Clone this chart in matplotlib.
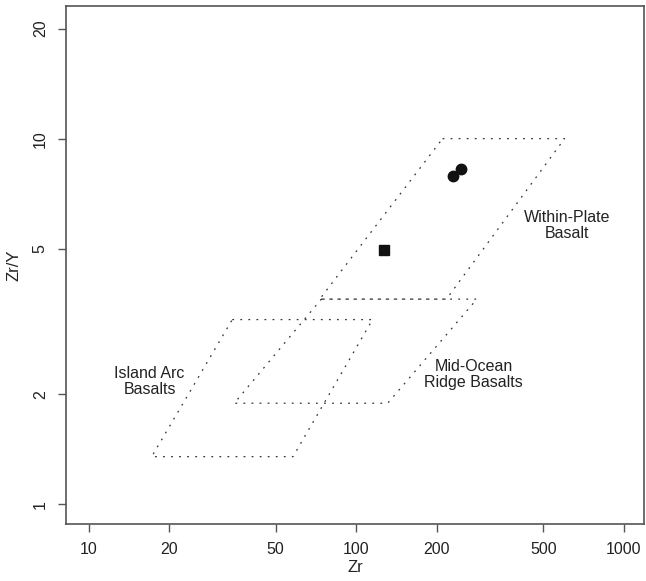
import matplotlib
matplotlib.use("Agg")
import matplotlib.pyplot as plt
from matplotlib.ticker import NullLocator, FixedLocator, FixedFormatter

plt.rcParams['font.family'] = ['Liberation Sans', 'DejaVu Sans']
plt.rcParams['lines.scale_dashes'] = False

# field outlines (Zr, Zr/Y)
wpb_zr = [210, 600, 217, 73, 210]
wpb_ratio = [10, 10, 3.64, 3.64, 10]
morb_zr = [74, 282, 131, 35, 74]
morb_ratio = [3.64, 3.64, 1.89, 1.89, 3.64]
iab_zr = [34.4, 115, 58, 17.2, 34.4]
iab_ratio = [3.2, 3.2, 1.35, 1.35, 3.2]

# samples
circle_zr = [230, 247]
circle_ratio = [7.88, 8.24]
square_zr = [127]
square_ratio = [4.96]

x_ticks = [10, 20, 50, 100, 200, 500, 1000]
y_ticks = [1, 2, 5, 10, 20]

fig = plt.figure(figsize=(6.46, 5.81), dpi=100)
ax = fig.add_axes([0.102, 0.098, 0.895, 0.8925])
ax.set_xscale('log')
ax.set_yscale('log')

dots = (0, (1.3, 4.5))
for xs, ys in [(wpb_zr, wpb_ratio), (morb_zr, morb_ratio), (iab_zr, iab_ratio)]:
    ax.plot(xs, ys, color='#333333', linewidth=0.9, linestyle=dots)

ax.plot(circle_zr, circle_ratio, 'o', color='#111111', markersize=7.5, linestyle='none')
ax.plot(square_zr, square_ratio, 's', color='#111111', markersize=7, linestyle='none')

ax.text(612, 5.8, "Within-Plate\nBasalt", ha='center', va='center', fontsize=11.5,
        color='#222222', linespacing=1.1)
ax.text(274, 2.27, "Mid-Ocean\nRidge Basalts", ha='center', va='center', fontsize=11.5,
        color='#222222', linespacing=1.1)
ax.text(16.9, 2.17, "Island Arc\nBasalts", ha='center', va='center', fontsize=11.5,
        color='#222222', linespacing=1.1)

ax.set_xlim(10 ** 0.915, 10 ** 3.075)
ax.set_ylim(10 ** -0.054, 10 ** 1.364)

ax.xaxis.set_major_locator(FixedLocator(x_ticks))
ax.xaxis.set_major_formatter(FixedFormatter([str(v) for v in x_ticks]))
ax.xaxis.set_minor_locator(NullLocator())
ax.yaxis.set_major_locator(FixedLocator(y_ticks))
ax.yaxis.set_major_formatter(FixedFormatter([str(v) for v in y_ticks]))
ax.yaxis.set_minor_locator(NullLocator())

ax.tick_params(direction='out', length=6, width=1, color='#555555', labelsize=11.5,
               labelcolor='#222222', pad=7)
for lab in ax.get_yticklabels():
    lab.set_rotation(90)
    lab.set_va('center')

for side in ['left', 'bottom', 'top', 'right']:
    ax.spines[side].set_color('#555555')
    ax.spines[side].set_linewidth(1.2)

ax.set_xlabel("Zr", fontsize=12, color='#222222', labelpad=2)
ax.set_ylabel("Zr/Y", fontsize=12, color='#222222', labelpad=8)

fig.savefig("out.png", dpi=100)
